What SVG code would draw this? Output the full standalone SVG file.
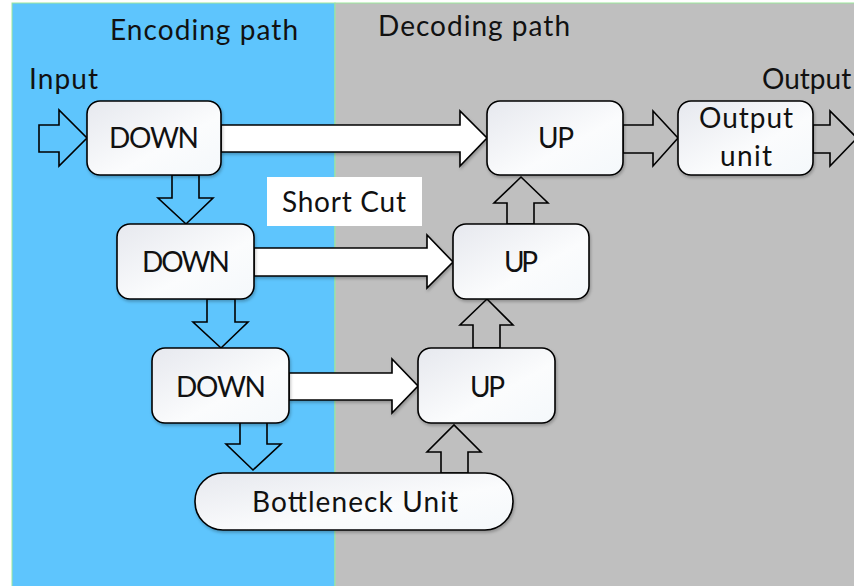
<svg xmlns="http://www.w3.org/2000/svg" width="854" height="586" viewBox="0 0 854 586">
<style>
  .lbl{font-family:Lato,"Open Sans","Liberation Sans",sans-serif;font-size:28px;fill:#111;}
  .node{fill:url(#ng);stroke:#000;stroke-width:1.6;filter:url(#sh);}
  .arr{fill:none;stroke:#000;stroke-width:1.6;stroke-linejoin:miter;}
  .arrw{fill:#fff;stroke:#000;stroke-width:1.6;filter:url(#sh);}
</style>
<defs>
  <linearGradient id="ng" x1="0" y1="0" x2="1" y2="1">
    <stop offset="0" stop-color="#e6e8ee"/>
    <stop offset="0.6" stop-color="#fbfcfd"/>
    <stop offset="1" stop-color="#f4f8fb"/>
  </linearGradient>
  <filter id="sh" x="-10%" y="-10%" width="130%" height="140%">
    <feDropShadow dx="1" dy="2" stdDeviation="1.5" flood-color="#000" flood-opacity="0.25"/>
  </filter>
</defs>
<rect x="0" y="0" width="854" height="586" fill="#fff"/>
<g id="encoding-region">
  <rect x="12" y="3" width="323" height="590" fill="#5ec5fd" stroke="#9be89b" stroke-width="1"/>
  <text class="lbl" x="110" y="40" textLength="188">Encoding path</text>
</g>
<g id="decoding-region">
  <rect x="335" y="3" width="530" height="590" fill="#bfbfbf" stroke="#9be89b" stroke-width="1"/>
  <text class="lbl" x="378" y="36" textLength="192">Decoding path</text>
</g>
<text class="lbl" x="29" y="89" textLength="69">Input</text>
<text class="lbl" x="762" y="89">Output</text>
<g id="connectors">
  <!-- input -->
  <polygon class="arr" points="39,125 59,125 59,110 87,138 59,166 59,152 39,152"/>
  <!-- DOWN1 -> UP1 -->
  <polygon class="arrw" points="221,125 460,125 460,111 487,138 460,166 460,152 221,152"/>
  <!-- UP1 -> Output unit -->
  <polygon class="arr" points="623,125 653,125 653,111 678,138 653,166 653,153 623,153"/>
  <!-- Output unit -> out -->
  <polygon class="arr" points="813,125 830,125 830,111 857,138 830,166 830,153 813,153"/>
  <!-- DOWN1 -> DOWN2 -->
  <polygon class="arr" points="172,175 199,175 199,198 213,198 186,224 158,198 172,198"/>
  <!-- DOWN2 -> DOWN3 -->
  <polygon class="arr" points="207,299 235,299 235,322 248,322 221,348 193,322 207,322"/>
  <!-- DOWN3 -> Bottleneck -->
  <polygon class="arr" points="240,421 267,421 267,444 281,444 253,470 226,444 240,444"/>
  <!-- DOWN2 -> UP2 -->
  <polygon class="arrw" points="254,248 427,248 427,235 453,262 427,288 427,276 254,276"/>
  <!-- DOWN3 -> UP3 -->
  <polygon class="arrw" points="289,373 392,373 392,359 418,386 392,413 392,400 289,400"/>
  <!-- UP2 -> UP1 -->
  <polygon class="arr" points="507,224 507,203 494,203 521,177 548,203 534,203 534,224"/>
  <!-- UP3 -> UP2 -->
  <polygon class="arr" points="473,348 473,325 460,325 487,299 513,325 500,325 500,348"/>
  <!-- Bottleneck -> UP3 -->
  <polygon class="arr" points="441,473 441,452 427,452 454,425 481,452 468,452 468,473"/>
</g>
<g id="shortcut-label">
  <rect x="267" y="177" width="155" height="49" fill="#fff"/>
  <text class="lbl" x="282" y="212" textLength="124">Short Cut</text>
</g>
<g id="down1">
  <rect class="node" x="87" y="101" width="134" height="74" rx="13"/>
  <text class="lbl" x="109" y="148" textLength="90">DOWN</text>
</g>
<g id="up1">
  <rect class="node" x="487" y="101" width="136" height="74" rx="13"/>
  <text class="lbl" x="538" y="148" textLength="36">UP</text>
</g>
<g id="output-unit">
  <rect class="node" x="678" y="101" width="135" height="74" rx="13"/>
  <text class="lbl" x="699" y="128" textLength="94">Output</text>
  <text class="lbl" x="720" y="166" textLength="52">unit</text>
</g>
<g id="down2">
  <rect class="node" x="117" y="224" width="137" height="75" rx="13"/>
  <text class="lbl" x="142" y="272" textLength="88">DOWN</text>
</g>
<g id="up2">
  <rect class="node" x="453" y="224" width="136" height="75" rx="13"/>
  <text class="lbl" x="504" y="272" textLength="34">UP</text>
</g>
<g id="down3">
  <rect class="node" x="152" y="348" width="137" height="75" rx="13"/>
  <text class="lbl" x="176" y="397" textLength="90">DOWN</text>
</g>
<g id="up3">
  <rect class="node" x="418" y="348" width="137" height="75" rx="13"/>
  <text class="lbl" x="470" y="397" textLength="35">UP</text>
</g>
<g id="bottleneck">
  <rect class="node" x="195" y="473" width="318" height="57" rx="28"/>
  <text class="lbl" x="252" y="512" textLength="206">Bottleneck Unit</text>
</g>
</svg>
